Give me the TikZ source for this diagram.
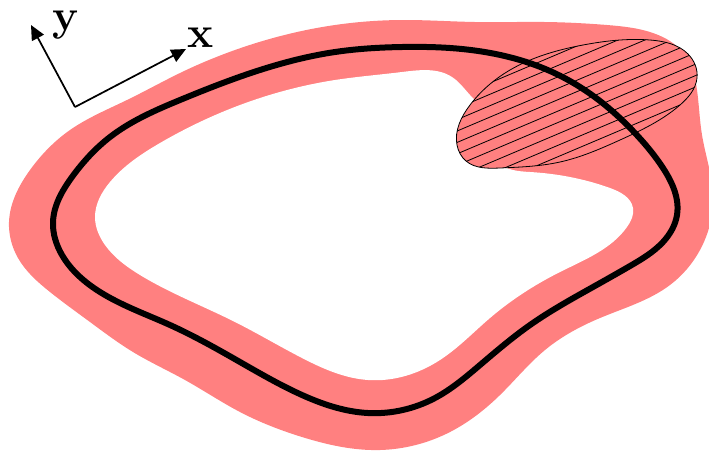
\documentclass[tikz,border=0pt]{standalone}
\usepackage{tikz}
\usetikzlibrary{arrows.meta,hobby}
\definecolor{bandpink}{HTML}{FF8080}

\tikzset{
  bandfill/.style={fill=bandpink, draw=none},
  holefill/.style={fill=white, draw=none},
  blob/.style={use Hobby shortcut, closed=true},
  contour/.style={draw=black, line width=4.5pt},
  hatchline/.style={draw=black, line width=0.6pt},
  axisarrow/.style={draw=black, line width=1.3pt, -{Triangle[length=11pt,width=10pt]}},
  axislabel/.style={font=\fontsize{33}{33}\selectfont\bfseries, inner sep=0pt, anchor=base}
}

% the hatched lobe
\def\lobepath{(457,145) .. (470,105) .. (510,70) .. (583,45) .. (650,40)
  .. (688,54) .. (697,78) .. (680,105) .. (620,140) .. (560,162)
  .. (500,168) .. (466,161)}

\begin{document}
\begin{tikzpicture}[x=0.75pt, y=-0.75pt]
  \useasboundingbox (0,0) rectangle (709,451);

  % outer band
  \path[bandfill, blob] (9,222) .. (30,170) .. (70,130) .. (127,100) .. (180,73)
    .. (235,50) .. (335,25) .. (402,20) .. (475,22) .. (545,22) .. (607,25)
    .. (653,33) .. (685,55) .. (697,90) .. (702,135) .. (713,195) .. (700,250)
    .. (670,285) .. (600,318) .. (545,350) .. (500,395) .. (450,432)
    .. (380,450) .. (302,437) .. (240,412) .. (185,380)
    .. (133,352) .. (90,322) .. (50,292) .. (18,258);

  % inner hole
  \path[holefill, blob] (95,217) .. (110,182) .. (160,143) .. (240,105)
    .. (335,80) .. (402,72) .. (452,77) .. (470,95) .. (492,125) .. (497,160)
    .. (530,172) .. (570,177) .. (610,188) .. (633,208) .. (627,227)
    .. (560,272) .. (490,318) .. (440,360) .. (368,380)
    .. (302,358) .. (235,322) .. (140,275) .. (105,245);

  % hatched lobe
  \coordinate (hc) at (577,103);
  \path[bandfill, blob] \lobepath;
  \begin{scope}
    \clip[blob] \lobepath;
    \foreach \k in {-8,...,8}
      \draw[hatchline] ([shift={(\k*4.1,\k*9.67)}]hc) ++(-184,78) -- ++(368,-156);
  \end{scope}
  \draw[hatchline, blob] \lobepath;

  % contour
  \draw[contour, blob] (53,222) .. (72,177) .. (110,137) .. (180,100)
    .. (260,70) .. (335,52) .. (402,47) .. (450,48) .. (550,71) .. (600,101)
    .. (633,131) .. (663,168) .. (677,215) .. (663,242) .. (630,266)
    .. (593,287) .. (530,325) .. (480,365) .. (435,398) .. (368,413)
    .. (302,395) .. (240,362) .. (170,325) .. (100,292) .. (62,255);

  % axes
  \coordinate (o) at (75,107);
  \coordinate (ytip) at (31,25);
  \coordinate (xtip) at (186,49);
  \draw[axisarrow] (o) -- (ytip);
  \draw[axisarrow] (o) -- (xtip);
  \node[axislabel] (ylab) at (66,30) {y};
  \node[axislabel] (xlab) at (201,47) {x};
\end{tikzpicture}
\end{document}
